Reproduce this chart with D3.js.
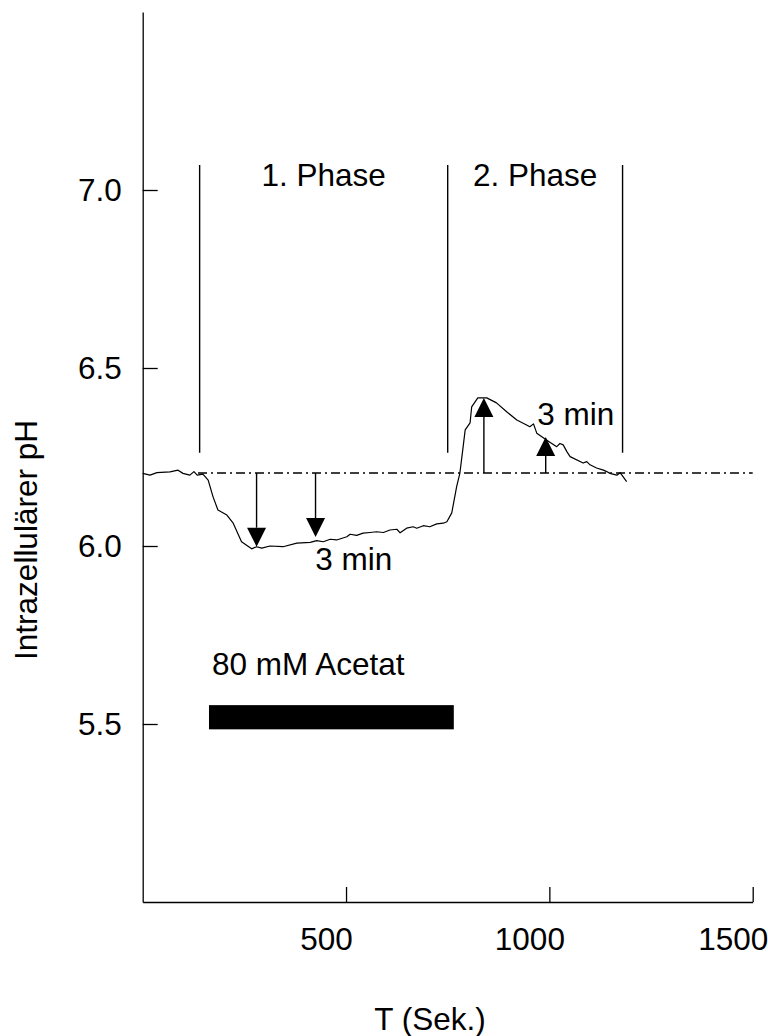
<!DOCTYPE html>
<html>
<head>
<meta charset="utf-8">
<script src="https://cdn.jsdelivr.net/npm/d3@7"></script>
<style>
  body { margin: 0; background: #fff; }
  svg text { font-family: "Liberation Sans", Arial, Helvetica, sans-serif; fill: #000; }
</style>
</head>
<body>
<div id="chart"></div>
<script>
// measured trace: time (s) and intracellular pH
const traceT = [0, 18, 35, 67, 87, 99, 116, 126, 134, 148, 161, 173, 185, 207, 222, 243, 268, 280, 293, 313, 345, 379,
  412, 428, 444, 461, 477, 502, 510, 526, 542, 559, 575, 592, 608, 625, 633, 649, 665, 674, 690, 706, 723, 739, 748,
  760, 772, 780, 788, 793, 805, 809, 824, 846, 870, 895, 920, 944, 952, 961, 969, 993, 1018, 1026, 1034, 1043, 1051,
  1083, 1092, 1100, 1116, 1133, 1141, 1149, 1166, 1174, 1190];
const tracePH = [6.204, 6.199, 6.206, 6.208, 6.213, 6.204, 6.199, 6.209, 6.199, 6.202, 6.185, 6.138, 6.101, 6.087, 6.065, 6.012, 5.992, 5.998, 5.994, 6.000, 5.998, 6.008,
  6.010, 6.015, 6.012, 6.019, 6.017, 6.026, 6.033, 6.030, 6.036, 6.038, 6.040, 6.038, 6.045, 6.047, 6.037, 6.050, 6.054, 6.050, 6.057, 6.054, 6.062, 6.064, 6.068,
  6.093, 6.167, 6.205, 6.279, 6.326, 6.346, 6.391, 6.416, 6.416, 6.402, 6.377, 6.354, 6.340, 6.335, 6.343, 6.317, 6.298, 6.279, 6.288, 6.284, 6.265, 6.251,
  6.233, 6.237, 6.228, 6.219, 6.213, 6.209, 6.204, 6.199, 6.206, 6.181];

const baselinePH = 6.205;
const baselineStart = 136;
const phaseBounds = [140, 750, 1180];
const phaseTop = 7.07, phaseBottom = 6.262;
const phaseLabels = ["1. Phase", "2. Phase"];

const arrowT = [280, 425, 839, 991];
const arrowTipPH = [5.998, 6.025, 6.416, 6.306];

const acetatStart = 163, acetatEnd = 765;
const acetatPH = [5.485, 5.553];

const xTicks = [500, 1000, 1500];
const yTicks = [5.5, 6.0, 6.5, 7.0];

const W = 768, H = 1036;
const FS = 31.5;

const svg = d3.select('#chart').append('svg')
  .attr('width', W)
  .attr('height', H);

const x = d3.scaleLinear().domain([0, 1500]).range([142.7, 752.7]);
const y = d3.scaleLinear().domain([5.0, 7.5]).range([902, 12]);

// axes
const axisY = d3.axisLeft(y)
  .tickValues(yTicks)
  .tickFormat(d3.format('.1f'))
  .tickSizeInner(-15)
  .tickSizeOuter(0)
  .tickPadding(21);

const axisX = d3.axisBottom(x)
  .tickValues(xTicks)
  .tickFormat(d3.format('d'))
  .tickSizeInner(-15)
  .tickSizeOuter(0)
  .tickPadding(26);

const gy = svg.append('g')
  .attr('transform', `translate(${x(0)},0)`)
  .call(axisY);

const gx = svg.append('g')
  .attr('transform', `translate(0,${y(5.0)})`)
  .call(axisX);

[gx, gy].forEach(g => {
  g.select('.domain').attr('stroke', '#000').attr('stroke-width', 1.3);
  g.selectAll('.tick line').attr('stroke', '#000').attr('stroke-width', 1.3);
  g.selectAll('.tick text')
    .style('font-size', FS + 'px')
    .style('font-family', '"Liberation Sans", Arial, sans-serif')
    .attr('fill', '#000');
});
gx.selectAll('.tick text').attr('dx', -20);

// axis titles
svg.append('text')
  .attr('x', 430)
  .attr('y', 1030)
  .attr('text-anchor', 'middle')
  .style('font-size', FS + 'px')
  .text('T (Sek.)');

svg.append('text')
  .attr('transform', `translate(37,540) rotate(-90)`)
  .attr('text-anchor', 'middle')
  .style('font-size', FS + 'px')
  .text('Intrazellulärer pH');

// baseline (dash-dot)
svg.append('line')
  .attr('x1', x(baselineStart))
  .attr('x2', x(1500))
  .attr('y1', y(baselinePH))
  .attr('y2', y(baselinePH))
  .attr('stroke', '#000')
  .attr('stroke-width', 1.4)
  .attr('stroke-dasharray', '9,4,2,4');

// phase boundaries
svg.selectAll('.phase')
  .data(phaseBounds)
  .enter().append('line')
    .attr('class', 'phase')
    .attr('x1', d => x(d))
    .attr('x2', d => x(d))
    .attr('y1', y(phaseTop))
    .attr('y2', y(phaseBottom))
    .attr('stroke', '#000')
    .attr('stroke-width', 1.4);

svg.selectAll('.phase-label')
  .data(phaseLabels)
  .enter().append('text')
    .attr('class', 'phase-label')
    .attr('x', (d, i) => x((phaseBounds[i] + phaseBounds[i + 1]) / 2))
    .attr('y', y(7.011))
    .attr('text-anchor', 'middle')
    .style('font-size', FS + 'px')
    .text(d => d);

// trace
const trace = traceT.map((t, i) => [t, tracePH[i]]);
svg.append('path')
  .datum(trace)
  .attr('fill', 'none')
  .attr('stroke', '#000')
  .attr('stroke-width', 1.2)
  .attr('stroke-linejoin', 'round')
  .attr('d', d3.line().x(d => x(d[0])).y(d => y(d[1])));

// arrows from baseline to trace
const headLen = 19, headW = 19;
arrowT.forEach((t, i) => {
  const ax = x(t);
  const y0 = y(baselinePH);
  const yt = y(arrowTipPH[i]);
  const dir = yt > y0 ? 1 : -1;
  svg.append('line')
    .attr('x1', ax).attr('x2', ax)
    .attr('y1', y0).attr('y2', yt - dir * headLen)
    .attr('stroke', '#000')
    .attr('stroke-width', 1.4);
  svg.append('path')
    .attr('d', `M${ax},${yt}L${ax - headW / 2},${yt - dir * headLen}L${ax + headW / 2},${yt - dir * headLen}Z`)
    .attr('fill', '#000');
});

// "3 min" annotations
svg.append('text')
  .attr('x', x(424)).attr('y', y(5.933))
  .style('font-size', FS + 'px')
  .text('3 min');
svg.append('text')
  .attr('x', x(970)).attr('y', y(6.340))
  .style('font-size', FS + 'px')
  .text('3 min');

// acetate application bar
svg.append('text')
  .attr('x', x(acetatStart) + 3).attr('y', y(5.638))
  .style('font-size', FS + 'px')
  .text('80 mM Acetat');

svg.append('rect')
  .attr('x', x(acetatStart))
  .attr('width', x(acetatEnd) - x(acetatStart))
  .attr('y', y(acetatPH[1]))
  .attr('height', y(acetatPH[0]) - y(acetatPH[1]))
  .attr('fill', '#000');
</script>
</body>
</html>
